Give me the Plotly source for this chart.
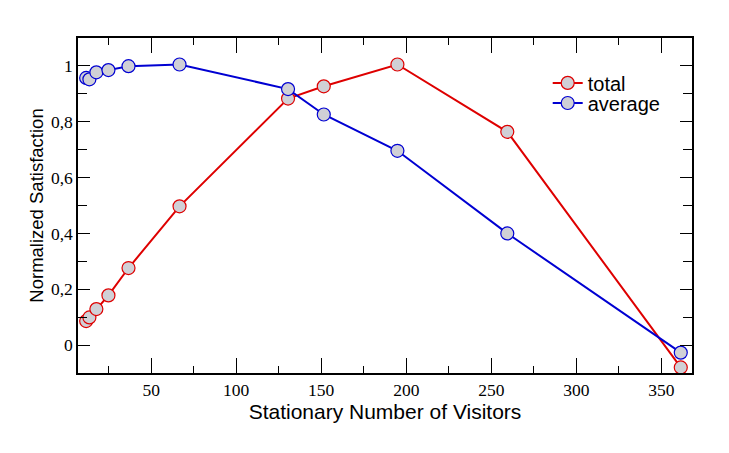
import plotly.graph_objects as go

visitors = [11.8, 13.7, 17.8, 24.9, 36.7, 66.7, 130.5, 151.5, 194.8, 259.4, 361.4]
total = [0.086, 0.099, 0.129, 0.178, 0.276, 0.497, 0.883, 0.927, 1.005, 0.764, -0.080]
average = [0.957, 0.952, 0.977, 0.985, 0.999, 1.005, 0.917, 0.826, 0.696, 0.400, -0.027]

y_tickvals = [0, 0.2, 0.4, 0.6, 0.8, 1.0]
y_ticktext = ["0", "0,2", "0,4", "0,6", "0,8", "1"]
x_tickvals = [50, 100, 150, 200, 250, 300, 350]

RED = "rgb(222,0,0)"
BLUE = "rgb(0,0,210)"
FILL = "rgb(208,208,214)"

fig = go.Figure()
fig.add_trace(go.Scatter(x=visitors, y=total, name="total", mode="lines+markers",
                         line=dict(color=RED, width=2), legend="legend",
                         marker=dict(size=13, color=FILL, line=dict(color=RED, width=1.2))))
fig.add_trace(go.Scatter(x=visitors, y=average, name="average", mode="lines+markers",
                         line=dict(color=BLUE, width=2), legend="legend2",
                         marker=dict(size=13, color=FILL, line=dict(color=BLUE, width=1.2))))

tickfont = dict(family="Liberation Serif", size=17.5, color="black")
legfont = dict(family="Liberation Sans", size=20, color="black")

fig.update_layout(
    width=729, height=453,
    margin=dict(l=78, r=37, t=38, b=80),
    paper_bgcolor="white", plot_bgcolor="white",
    showlegend=True,
    legend=dict(x=0.765, y=0.866, xanchor="left", yanchor="middle",
                bgcolor="rgba(0,0,0,0)", font=legfont, itemwidth=30),
    legend2=dict(x=0.765, y=0.806, xanchor="left", yanchor="middle",
                 bgcolor="rgba(0,0,0,0)", font=legfont, itemwidth=30),
    xaxis=dict(range=[7, 368], tickvals=x_tickvals, ticks="inside", ticklen=15, tickwidth=1,
               tickcolor="black", showline=True, linecolor="black", linewidth=1.5,
               mirror="allticks", showgrid=False, zeroline=False, tickfont=tickfont,
               minor=dict(dtick=25, tick0=0, ticks="inside", ticklen=7, tickcolor="black", showgrid=False),
               title=dict(text="Stationary Number of Visitors",
                          font=dict(family="Liberation Sans", size=21, color="black"), standoff=6)),
    yaxis=dict(range=[-0.1, 1.1], tickvals=y_tickvals, ticktext=y_ticktext, ticks="inside",
               ticklen=12, tickwidth=1, tickcolor="black", showline=True, linecolor="black",
               linewidth=1.5, mirror="allticks", showgrid=False, zeroline=False, tickfont=tickfont,
               minor=dict(dtick=0.1, tick0=0, ticks="inside", ticklen=9, tickcolor="black", showgrid=False),
               title=dict(text="Normalized Satisfaction",
                          font=dict(family="Liberation Sans", size=18.5, color="black"), standoff=2)),
)

fig.write_html("out.html")
